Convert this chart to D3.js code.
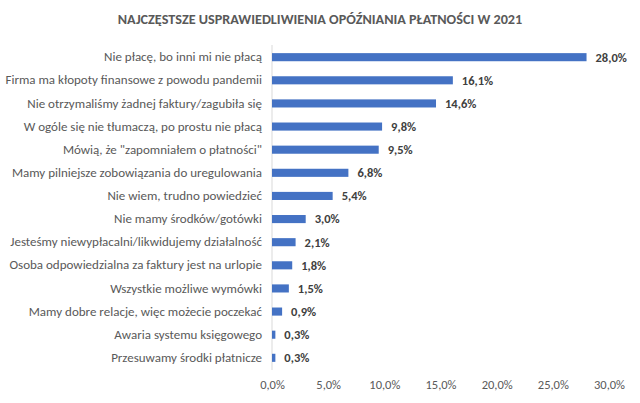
<!DOCTYPE html>
<html><head><meta charset="utf-8">
<script src="https://cdn.jsdelivr.net/npm/d3@7"></script>
<style>body{margin:0;background:#fff}svg{display:block}</style>
</head><body><svg id="c" width="640" height="403"></svg>
<script>
const categories = [
  "Nie płacę, bo inni mi nie płacą",
  "Firma ma kłopoty finansowe z powodu pandemii",
  "Nie otrzymaliśmy żadnej faktury/zagubiła się",
  "W ogóle się nie tłumaczą, po prostu nie płacą",
  "Mówią, że \"zapomniałem o płatności\"",
  "Mamy pilniejsze zobowiązania do uregulowania",
  "Nie wiem, trudno powiedzieć",
  "Nie mamy środków/gotówki",
  "Jesteśmy niewypłacalni/likwidujemy działalność",
  "Osoba odpowiedzialna za faktury jest na urlopie",
  "Wszystkie możliwe wymówki",
  "Mamy dobre relacje, więc możecie poczekać",
  "Awaria systemu księgowego",
  "Przesuwamy środki płatnicze"
];
const values = [28.0, 16.1, 14.6, 9.8, 9.5, 6.8, 5.4, 3.0, 2.1, 1.8, 1.5, 0.9, 0.3, 0.3];
const tickValues = [0, 5, 10, 15, 20, 25, 30];
const title = "NAJCZĘSTSZE USPRAWIEDLIWIENIA OPÓŹNIANIA PŁATNOŚCI W 2021";

const svg = d3.select("#c");
const font = "Carlito, Calibri, Lato, sans-serif";
const fmt = v => v.toFixed(1).replace(".", ",") + "%";

const x = d3.scaleLinear().domain([0, 30]).range([272, 609]);
const y = d3.scaleBand().domain(categories).range([45.5, 369.5]).paddingInner(0.65).paddingOuter(0.33);

svg.append("text").attr("x", 320).attr("y", 24).attr("text-anchor", "middle")
  .attr("font-family", font).attr("font-size", 14.2).attr("font-weight", "bold")
  .attr("fill", "#595959").text(title);

svg.append("line").attr("x1", x(0)).attr("x2", x(0)).attr("y1", 45).attr("y2", 370)
  .attr("stroke", "#d9d9d9").attr("stroke-width", 1);

svg.selectAll("rect.bar").data(values).join("rect").attr("class", "bar")
  .attr("x", x(0)).attr("y", (d, i) => y(categories[i]))
  .attr("width", d => x(d) - x(0)).attr("height", y.bandwidth())
  .attr("fill", "#4472c4");

svg.selectAll("text.val").data(values).join("text").attr("class", "val")
  .attr("x", d => x(d) + 9).attr("y", (d, i) => y(categories[i]) + y.bandwidth() / 2)
  .attr("dy", "0.35em").attr("font-family", font).attr("font-size", 12.5)
  .attr("font-weight", "bold").attr("fill", "#404040").text(fmt);

const yAxis = d3.axisLeft(y).tickSize(0).tickPadding(10);
const gy = svg.append("g").attr("transform", `translate(${x(0)},0)`).call(yAxis);
gy.select(".domain").remove();
gy.selectAll("text").attr("font-family", font).attr("font-size", 13).attr("fill", "#595959");

const xAxis = d3.axisBottom(x).tickValues(tickValues).tickSize(0).tickPadding(0)
  .tickFormat(fmt);
const gx = svg.append("g").attr("transform", "translate(0,380)").call(xAxis);
gx.select(".domain").remove();
gx.selectAll("text").attr("font-family", font).attr("font-size", 12.5).attr("fill", "#595959");
</script></body></html>
